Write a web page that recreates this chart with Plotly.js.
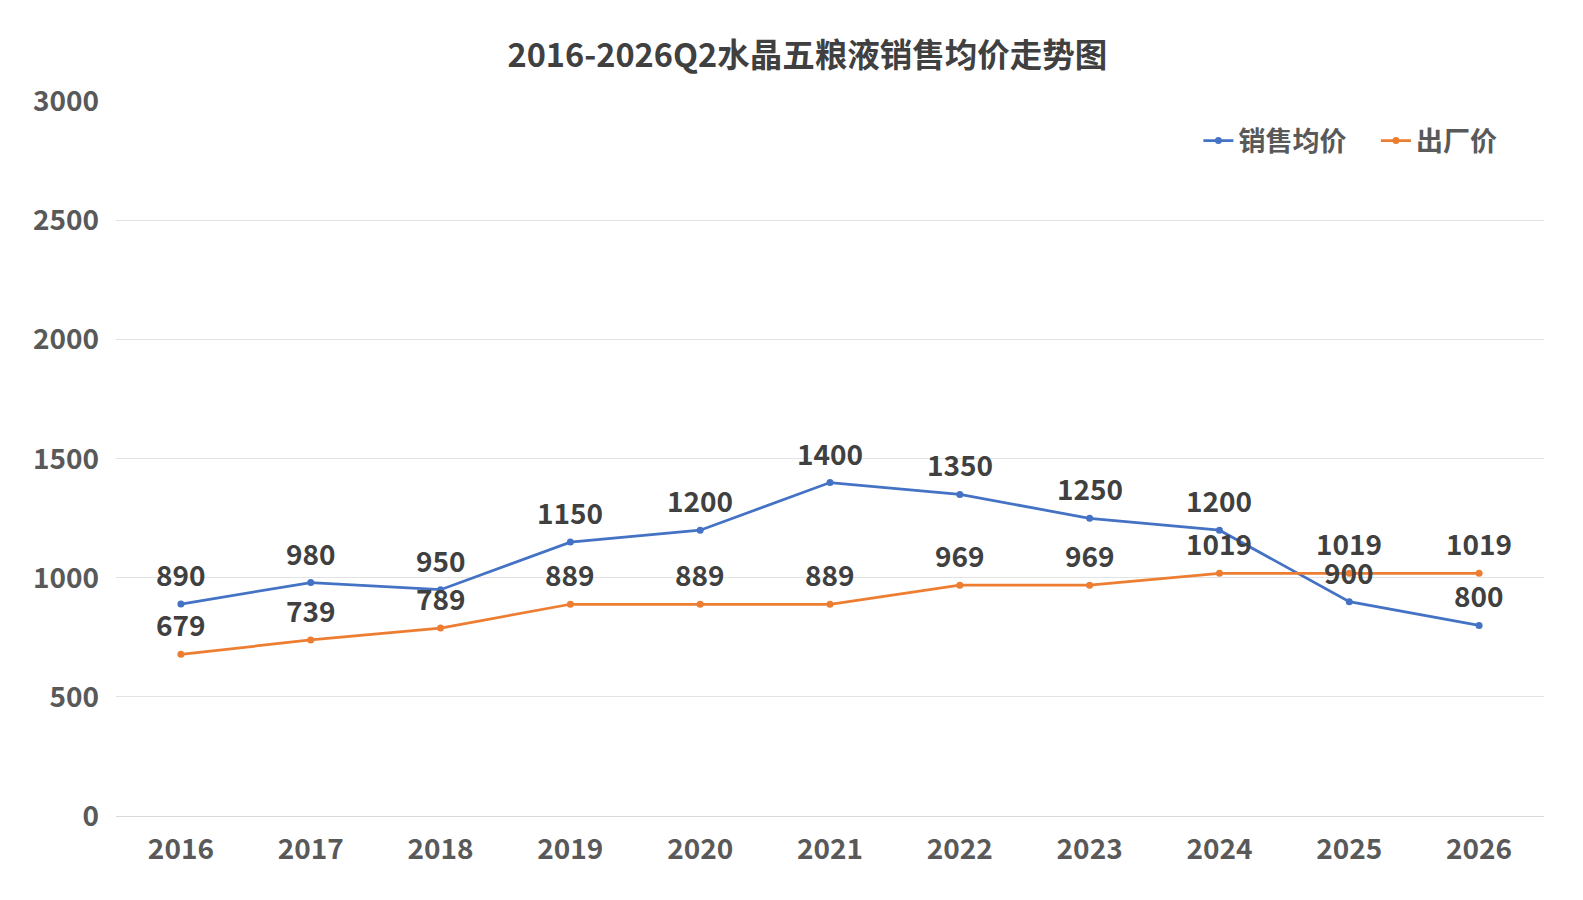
<!DOCTYPE html>
<html>
<head>
<meta charset="utf-8">
<script src="https://cdn.plot.ly/plotly-3.0.1.min.js"></script>
<style>
  html, body { margin: 0; padding: 0; background: #fff; overflow: hidden; }
  #plot { width: 1583px; height: 900px; }
</style>
</head>
<body>
<div id="plot"></div>
<script>
// Years on the x axis
let years = [2016, 2017, 2018, 2019, 2020, 2021, 2022, 2023, 2024, 2025, 2026]

// 销售均价 (average selling price)
let avg_price = [890, 980, 950, 1150, 1200, 1400, 1350, 1250, 1200, 900, 800]

// 出厂价 (ex-factory price)
let factory_price = [679, 739, 789, 889, 889, 889, 969, 969, 1019, 1019, 1019]

let font_family = '"Noto Sans CJK SC", "Noto Sans", sans-serif'
let label_color = '#404040'
let tick_color = '#595959'

function make_trace(name, values, color) {
  return {
    name: name,
    x: years,
    y: values,
    type: 'scatter',
    mode: 'lines+markers',
    line: {color: color, width: 2.75},
    marker: {color: color, size: 7},
    hoverinfo: 'x+y'
  }
}

// a bit of room between the two legend entries
let gap = '\u00a0\u00a0\u00a0\u00a0'
let data = [
  make_trace('销售均价' + gap, avg_price, '#4472C4'),
  make_trace('出厂价', factory_price, '#ED7D31')
]

// value labels sit above each point
let annotations = []
for (let series of [avg_price, factory_price]) {
  for (let [i, v] of series.entries()) {
    annotations.push({
      x: years[i], y: v, xref: 'x', yref: 'y',
      text: '<b>' + v + '</b>', showarrow: false,
      yshift: 30,
      font: {family: font_family, size: 28, color: label_color}
    })
  }
}

let layout = {
  width: 1583,
  height: 900,
  margin: {l: 116, r: 39, t: 101, b: 84},
  paper_bgcolor: '#ffffff',
  plot_bgcolor: '#ffffff',
  font: {family: font_family, color: tick_color},
  title: {
    text: '<b>2016-2026Q2水晶五粮液销售均价走势图</b>',
    font: {family: font_family, size: 32.5, color: label_color},
    x: 0.51, xanchor: 'center', xref: 'container',
    y: 0.938, yanchor: 'middle'
  },
  xaxis: {
    range: [2015.5, 2026.5],
    tickvals: years,
    ticktext: years.map(String),
    showgrid: false,
    showline: false,
    ticks: '',
    zeroline: false,
    automargin: false,
    ticklabelstandoff: 14,
    tickfont: {family: font_family, size: 28, color: tick_color, weight: 'bold'}
  },
  yaxis: {
    range: [0, 3002],
    tickvals: [0, 500, 1000, 1500, 2000, 2500, 3000],
    showgrid: true,
    gridcolor: '#e3e3e3',
    gridwidth: 1,
    zeroline: true,
    zerolinecolor: '#d9d9d9',
    zerolinewidth: 1,
    ticks: '',
    automargin: false,
    ticklabelstandoff: 16,
    tickfont: {family: font_family, size: 28, color: tick_color, weight: 'bold'}
  },
  showlegend: true,
  legend: {
    orientation: 'h',
    x: 0.758, xanchor: 'left',
    y: 0.944, yanchor: 'middle',
    font: {family: font_family, size: 27, color: tick_color, weight: 'bold'},
    bgcolor: 'rgba(0,0,0,0)'
  },
  annotations: annotations
}

Plotly.newPlot('plot', data, layout, {displayModeBar: false})
</script>
</body>
</html>
